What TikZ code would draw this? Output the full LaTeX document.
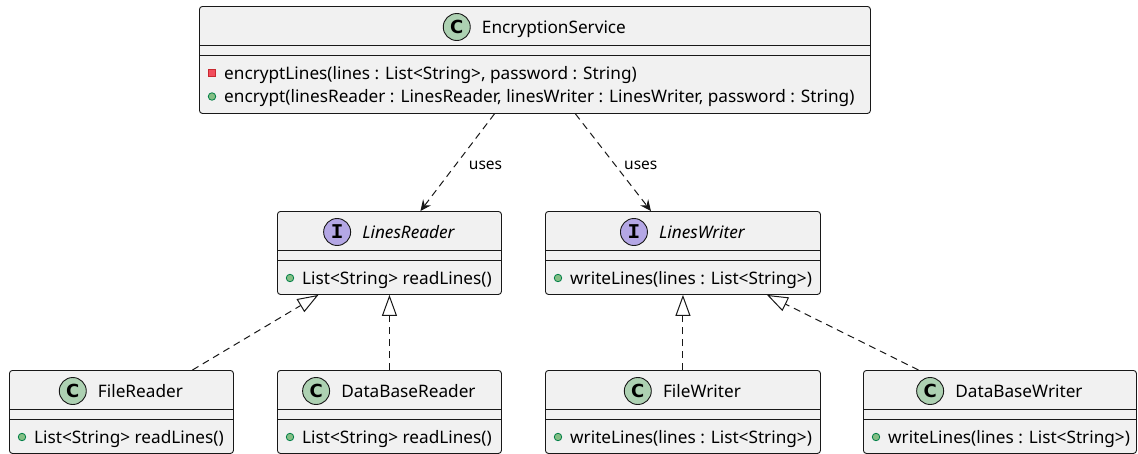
\documentclass[tikz,border=0pt]{standalone}
\usepackage{fontspec}
\setmainfont{Noto Sans}
\newfontfamily\monoicon{Liberation Mono}
\newfontfamily\sansicon{DejaVu Sans}
\usetikzlibrary{arrows.meta,calc}

\definecolor{boxfill}{HTML}{F1F1F1}
\definecolor{edge}{HTML}{181818}
\definecolor{classgreen}{HTML}{ADD1B2}
\definecolor{ifacepurple}{HTML}{B4A7E5}
\definecolor{pubfill}{HTML}{84BE84}
\definecolor{pubedge}{HTML}{038048}
\definecolor{privfill}{HTML}{F24D5C}
\definecolor{privedge}{HTML}{C82930}

\tikzset{
  umlbox/.style={draw=edge, fill=boxfill, line width=0.9pt, rounded corners=3pt,
    inner sep=0pt, anchor=north west},
  sepline/.style={draw=edge, line width=0.9pt},
  titletext/.style={inner sep=0pt, anchor=base, font=\fontsize{17.2}{20}\selectfont},
  membertext/.style={inner sep=0pt, anchor=base west, font=\fontsize{17.2}{20}\selectfont},
  classicon/.style={circle, draw=edge, line width=0.9pt, fill=classgreen,
    minimum size=27pt, inner sep=0pt, font=\sansicon\fontsize{18}{18}\selectfont\bfseries},
  ifaceicon/.style={circle, draw=edge, line width=0.9pt, fill=ifacepurple,
    minimum size=27pt, inner sep=0pt, font=\monoicon\fontsize{21}{21}\selectfont\bfseries},
  pubmark/.style={circle, draw=pubedge, fill=pubfill, line width=0.8pt,
    minimum size=7.5pt, inner sep=0pt},
  privmark/.style={rectangle, draw=privedge, fill=privfill, line width=0.8pt,
    minimum size=7.5pt, inner sep=0pt},
  depends/.style={draw=edge, line width=1pt, dash pattern=on 7pt off 5pt,
    -{Stealth[length=11pt, width=10pt, inset=4pt]}},
  realizes/.style={draw=edge, line width=1pt, dash pattern=on 7pt off 5pt,
    -{Triangle[open, fill=white, length=21pt, width=15pt]}},
  uselabel/.style={inner sep=0pt, anchor=west, yshift=-2.5pt, font=\fontsize{15.5}{18}\selectfont},
}

% class box: name, x, y, width, height, icon style, icon letter, title
\newcommand\umlclass[8]{%
  \node[umlbox, minimum width=#4pt, minimum height=#5pt] (#1) at (#2,#3) {};
  \draw[sepline] ([yshift=-39.5pt]#1.north west) -- ([yshift=-39.5pt]#1.north east);
  \draw[sepline] ([yshift=-49pt]#1.north west) -- ([yshift=-49pt]#1.north east);
  \node[titletext] (#1-title) at ([xshift=19pt,yshift=-27pt]#1.north) {#8};
  \node[#6] (#1-icon) at ([xshift=-25pt,yshift=6pt]#1-title.base west) {#7};
}

% member line: box, id, visibility style, baseline offset from top, text
\newcommand\umlmember[5]{%
  \node[membertext] (#1-#2) at ([xshift=25pt,yshift=-#4pt]#1.north west) {#5};
  \node[#3] (#1-#2-vis) at ([xshift=-12pt,yshift=6pt]#1-#2.base west) {};
}

\begin{document}
\begin{tikzpicture}[x=1pt, y=-1pt]
  \useasboundingbox (0,0) rectangle (1138,453);
  \fill[white] (0,0) rectangle (1138,453);

  % service class
  \umlclass{es}{199}{6}{671}{107}{classicon}{C}{EncryptionService}
  \umlmember{es}{m1}{privmark}{73}{encryptLines(lines : List<String>, password : String)}
  \umlmember{es}{m2}{pubmark}{96.5}{encrypt(linesReader : LinesReader, linesWriter : LinesWriter, password : String)}

  % interfaces
  \umlclass{lr}{277}{211}{224}{83}{ifaceicon}{I}{\itshape LinesReader}
  \umlmember{lr}{m1}{pubmark}{73}{List<String> readLines()}
  \umlclass{lw}{545}{211}{275}{83}{ifaceicon}{I}{\itshape LinesWriter}
  \umlmember{lw}{m1}{pubmark}{73}{writeLines(lines : List<String>)}

  % implementations
  \umlclass{fr}{9}{370}{224}{83}{classicon}{C}{FileReader}
  \umlmember{fr}{m1}{pubmark}{73}{List<String> readLines()}
  \umlclass{dbr}{277}{370}{224}{83}{classicon}{C}{DataBaseReader}
  \umlmember{dbr}{m1}{pubmark}{73}{List<String> readLines()}
  \umlclass{fw}{545}{370}{275}{83}{classicon}{C}{FileWriter}
  \umlmember{fw}{m1}{pubmark}{73}{writeLines(lines : List<String>)}
  \umlclass{dbw}{863}{370}{273}{83}{classicon}{C}{DataBaseWriter}
  \umlmember{dbw}{m1}{pubmark}{73}{writeLines(lines : List<String>)}

  % dependencies
  \draw[depends] ([xshift=-40.5pt]es.south) -- node[uselabel, xshift=11pt] (use1) {uses} ([xshift=31pt]lr.north);
  \draw[depends] ([xshift=40.5pt]es.south) -- node[uselabel, xshift=10.5pt] (use2) {uses} ([xshift=-32pt]lw.north);

  % realizations
  \draw[realizes] ([xshift=71pt]fr.north) -- ([xshift=-71pt]lr.south);
  \draw[realizes] (dbr.north) -- (lr.south);
  \draw[realizes] (fw.north) -- (lw.south);
  \draw[realizes] ([xshift=-81.5pt]dbw.north) -- ([xshift=84pt]lw.south);
\end{tikzpicture}
\end{document}
